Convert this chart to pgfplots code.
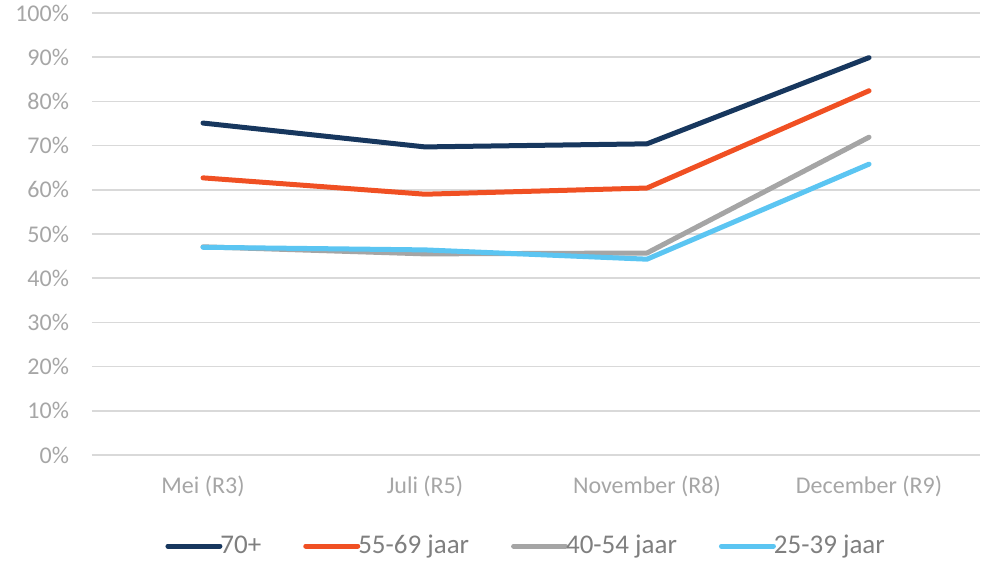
\documentclass[border=0pt]{standalone}
\usepackage{fontspec}
\setmainfont{Carlito}
\usepackage{pgfplots}
\pgfplotsset{compat=1.18}
\definecolor{navy}{HTML}{17375E}
\definecolor{oran}{HTML}{F05023}
\definecolor{gry}{HTML}{A5A5A5}
\definecolor{lblue}{HTML}{5BC5F2}
\definecolor{gridc}{HTML}{D9D9D9}
\definecolor{ticktxt}{HTML}{A6A6A6}
\definecolor{legtxt}{HTML}{7F7F7F}
\begin{document}
\begin{tikzpicture}
\path[use as bounding box] (-46pt,-53pt) rectangle (447pt,227.5pt);
\begin{axis}[
  at={(0,0)}, anchor=south west,
  scale only axis, width=444pt, height=221pt,
  xmin=-0.5, xmax=3.5, ymin=0, ymax=100,
  xtick={0,1,2,3},
  xticklabels={Mei (R3),Juli (R5),November (R8),December (R9)},
  ytick={0,10,...,100},
  yticklabels={0\%,10\%,20\%,30\%,40\%,50\%,60\%,70\%,80\%,90\%,100\%},
  xmajorgrids=false, ymajorgrids=true,
  grid style={draw=gridc, line width=0.75pt},
  axis line style={draw=none},
  major tick length=0pt,
  tick label style={font=\fontsize{12}{14}\selectfont, text=ticktxt},
  yticklabel style={xshift=-8pt},
  xticklabel style={yshift=-7pt},
  legend style={at={(0.49,-0.206)}, anchor=center, draw=none, fill=none,
    legend columns=4, font=\fontsize{13.5}{15}\selectfont, text=legtxt,
    /tikz/every even column/.append style={column sep=19pt}},
  legend image code/.code={\draw[#1, line cap=round, line width=2.5pt] (0pt,0pt) -- (26pt,0pt);},
  every axis plot/.append style={line width=2.5pt, line cap=round, line join=round, mark=none},
]
\addplot[navy] coordinates {(0,75.1) (1,69.7) (2,70.4) (3,89.9)};
\addlegendentry{\hspace{-3pt}70+}
\addplot[oran] coordinates {(0,62.7) (1,59.0) (2,60.4) (3,82.4)};
\addlegendentry{\hspace{-3pt}55-69 jaar}
\addplot[gry] coordinates {(0,47.1) (1,45.5) (2,45.7) (3,71.9)};
\addlegendentry{\hspace{-3pt}40-54 jaar}
\addplot[lblue] coordinates {(0,47.0) (1,46.4) (2,44.3) (3,65.8)};
\addlegendentry{\hspace{-3pt}25-39 jaar}
\end{axis}
\end{tikzpicture}
\end{document}
